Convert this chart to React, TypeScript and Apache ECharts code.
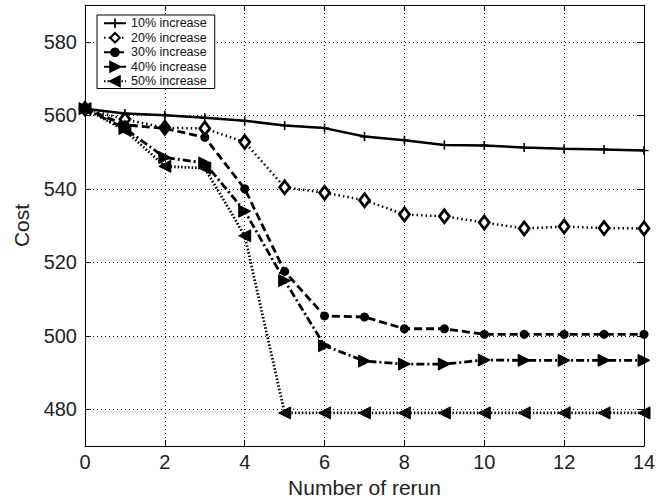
import React, { useEffect, useRef } from "react";
import * as echarts from "echarts";

const reruns = [0, 1, 2, 3, 4, 5, 6, 7, 8, 9, 10, 11, 12, 13, 14];
const seriesNames = ["10% increase", "20% increase", "30% increase", "40% increase", "50% increase"];
const inc10 = [561.8, 560.5, 560.0, 559.3, 558.5, 557.2, 556.5, 554.2, 553.2, 551.9, 551.8, 551.2, 550.9, 550.7, 550.4];
const inc20 = [561.8, 558.9, 556.6, 556.4, 552.7, 540.4, 538.9, 536.9, 533.0, 532.5, 530.8, 529.2, 529.7, 529.3, 529.2];
const inc30 = [561.8, 557.4, 556.4, 554.0, 540.0, 517.5, 505.4, 505.1, 501.9, 501.9, 500.4, 500.4, 500.4, 500.4, 500.4];
const inc40 = [561.8, 556.4, 548.5, 547.0, 533.9, 515.0, 497.3, 493.1, 492.3, 492.3, 493.4, 493.3, 493.3, 493.3, 493.3];
const inc50 = [561.8, 555.9, 546.1, 545.6, 527.2, 479.0, 479.0, 479.0, 479.0, 479.0, 479.0, 479.0, 479.0, 479.0, 479.0];
const yTicks = [480, 500, 520, 540, 560, 580];

const FONT = "'Liberation Sans', Arial, Helvetica, sans-serif";
const PLUS = "path://M4.1,0H5.9V4.1H10V5.9H5.9V10H4.1V5.9H0V4.1H4.1Z";

export default function App() {
  const ref = useRef<HTMLDivElement>(null);
  useEffect(() => {
    if (!ref.current) return;
    const chart = echarts.init(ref.current, null, { renderer: "svg" });
    const toPairs = (vals: number[]) => reruns.map((x, i) => [x, vals[i]]);
    const base = (name: string, vals: number[]) => ({
      name,
      type: "line" as const,
      data: toPairs(vals),
      xAxisIndex: 0,
      yAxisIndex: 0,
      showSymbol: true,
      showAllSymbol: true,
      z: 3,
    });
    const axisLine = { show: true, onZero: false, lineStyle: { color: "#000", width: 1 } };
    const tick = { show: true, inside: true, length: 6, lineStyle: { color: "#000" } };
    const grid = { show: true, lineStyle: { color: "#000", type: [1, 3], width: 1 } };
    const option = {
      animation: false,
      backgroundColor: "#fff",
      textStyle: { fontFamily: FONT },
      grid: { left: 85, right: 22, top: 5, bottom: 57 },
      legend: {
        show: true,
        orient: "vertical",
        left: 97,
        top: 15,
        padding: [1, 8, 0, 6],
        itemGap: 0,
        itemWidth: 22,
        itemHeight: 12,
        backgroundColor: "#fff",
        borderColor: "#000",
        borderWidth: 1,
        borderRadius: 0,
        textStyle: { fontSize: 12.5, lineHeight: 14.5, color: "#111", fontFamily: FONT },
        data: seriesNames,
      },
      xAxis: [
        {
          type: "value",
          min: 0,
          max: 14,
          interval: 2,
          position: "bottom",
          name: "Number of rerun",
          nameLocation: "middle",
          nameGap: 30,
          nameTextStyle: { fontSize: 21, color: "#222", fontFamily: FONT },
          axisLine,
          axisTick: tick,
          axisLabel: { fontSize: 20, color: "#222", margin: 6, fontFamily: FONT },
          splitLine: grid,
        },
        {
          type: "value",
          min: 0,
          max: 14,
          interval: 2,
          position: "top",
          axisLine,
          axisTick: tick,
          axisLabel: { show: false },
          splitLine: { show: false },
        },
      ],
      yAxis: [
        {
          type: "value",
          min: 470,
          max: 590,
          position: "left",
          name: "Cost",
          nameLocation: "middle",
          nameGap: 53,
          nameRotate: 90,
          nameTextStyle: { fontSize: 21, color: "#222", fontFamily: FONT },
          axisLine,
          axisTick: { ...tick, customValues: yTicks },
          axisLabel: { fontSize: 20, color: "#222", margin: 8, customValues: yTicks, fontFamily: FONT },
          splitLine: grid,
        },
        {
          type: "value",
          min: 470,
          max: 590,
          position: "right",
          axisLine,
          axisTick: { ...tick, customValues: yTicks },
          axisLabel: { show: false, customValues: yTicks },
          splitLine: { show: false },
        },
      ],
      series: [
        {
          ...base(seriesNames[0], inc10),
          symbol: PLUS,
          symbolSize: 9,
          itemStyle: { color: "#000" },
          lineStyle: { color: "#000", width: 2.5, type: "solid" },
        },
        {
          ...base(seriesNames[1], inc20),
          symbol: "diamond",
          symbolSize: [10, 13],
          itemStyle: { color: "#fff", borderColor: "#000", borderWidth: 2.8 },
          lineStyle: { color: "#000", width: 2.5, type: [1.5, 3] },
        },
        {
          ...base(seriesNames[2], inc30),
          symbol: "circle",
          symbolSize: 9,
          itemStyle: { color: "#000", borderColor: "#000", borderWidth: 0 },
          lineStyle: { color: "#000", width: 2.8, type: [8, 4] },
        },
        {
          ...base(seriesNames[3], inc40),
          symbol: "triangle",
          symbolSize: 12,
          symbolRotate: -90,
          itemStyle: { color: "#000", borderColor: "#000", borderWidth: 1 },
          lineStyle: { color: "#000", width: 2.8, type: [8, 3, 2, 3] },
        },
        {
          ...base(seriesNames[4], inc50),
          symbol: "triangle",
          symbolSize: 12,
          symbolRotate: 90,
          itemStyle: { color: "#000", borderColor: "#000", borderWidth: 1 },
          lineStyle: { color: "#000", width: 2.8, type: [1.5, 2] },
        },
      ],
    };
    chart.setOption(option as any);
    return () => chart.dispose();
  }, []);
  return (
    <div
      ref={ref}
      style={{ position: "absolute", left: 0, top: 0, width: 666, height: 503 }}
    />
  );
}
